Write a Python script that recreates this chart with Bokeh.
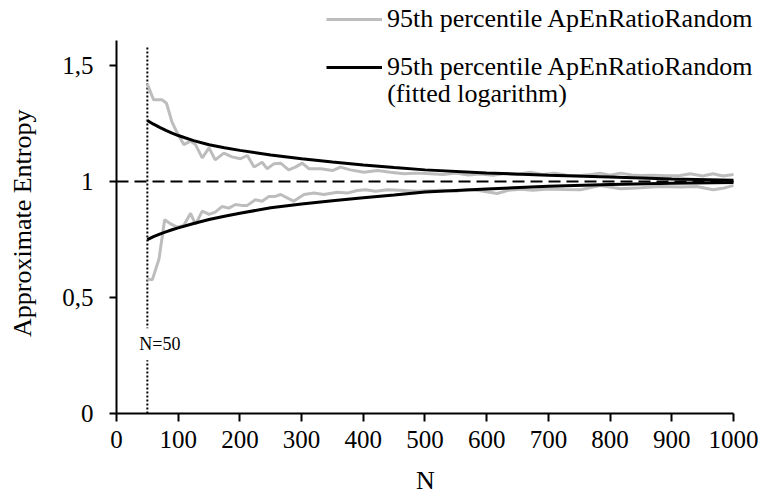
from bokeh.plotting import figure
from bokeh.models import Label, Legend, LegendItem, FixedTicker, Range1d
from bokeh.embed import file_html
from bokeh.resources import INLINE

# ---- data ----
n_upper = [50, 60, 74, 81, 90, 98, 109, 120, 128, 139, 150, 160, 174, 187, 201, 212, 223, 236, 244,
           255, 266, 279, 290, 301, 312, 331, 350, 363, 379, 401, 423, 444, 466, 487, 509, 530, 550,
           570, 590, 610, 630, 650, 670, 690, 710, 730, 752, 770, 784, 800, 817, 835, 850, 870, 890,
           914, 930, 950, 967, 983, 1000]
apen_upper = [1.420, 1.352, 1.352, 1.337, 1.256, 1.212, 1.159, 1.174, 1.159, 1.102, 1.145, 1.093,
              1.122, 1.106, 1.098, 1.112, 1.062, 1.083, 1.055, 1.076, 1.079, 1.050, 1.062, 1.079,
              1.055, 1.055, 1.047, 1.062, 1.050, 1.040, 1.047, 1.040, 1.033, 1.036, 1.033, 1.030,
              1.036, 1.028, 1.032, 1.027, 1.034, 1.030, 1.040, 1.030, 1.035, 1.027, 1.026, 1.030,
              1.036, 1.027, 1.036, 1.028, 1.026, 1.027, 1.025, 1.026, 1.033, 1.024, 1.033, 1.024,
              1.030]

n_lower = [50, 58, 69, 78, 88, 98, 109, 120, 128, 139, 150, 160, 171, 182, 193, 203, 212, 225, 236,
           247, 256, 266, 287, 304, 320, 336, 358, 374, 390, 404, 420, 439, 466, 487, 509, 530, 550,
           570, 590, 617, 635, 655, 675, 700, 725, 752, 784, 817, 850, 880, 914, 940, 967, 985, 1000]
apen_lower = [0.580, 0.576, 0.667, 0.835, 0.817, 0.803, 0.810, 0.863, 0.815, 0.872, 0.858, 0.868,
              0.892, 0.885, 0.901, 0.897, 0.897, 0.921, 0.915, 0.935, 0.935, 0.944, 0.915, 0.944,
              0.950, 0.944, 0.954, 0.950, 0.961, 0.964, 0.958, 0.964, 0.961, 0.958, 0.961, 0.962,
              0.958, 0.965, 0.960, 0.948, 0.962, 0.966, 0.962, 0.968, 0.965, 0.964, 0.983, 0.969,
              0.973, 0.978, 0.976, 0.978, 0.964, 0.972, 0.983]

n_fit = [50, 60, 70, 80, 90, 100, 125, 150, 175, 200, 250, 300, 350, 400, 450, 500, 600, 700,
         800, 900, 1000]
fit_upper = [1.263, 1.247, 1.233, 1.220, 1.208, 1.198, 1.176, 1.158, 1.145, 1.134, 1.114, 1.098,
             1.084, 1.071, 1.060, 1.050, 1.037, 1.027, 1.019, 1.011, 1.005]
fit_lower = [0.749, 0.762, 0.773, 0.783, 0.792, 0.800, 0.819, 0.836, 0.850, 0.863, 0.887, 0.903,
             0.917, 0.930, 0.942, 0.955, 0.968, 0.979, 0.987, 0.992, 0.996]

x_ticks = [0, 100, 200, 300, 400, 500, 600, 700, 800, 900, 1000]
x_axis_max = 1000
y_ticks = [0, 0.5, 1, 1.5]
y_tick_labels = ["0", "0,5", "1", "1,5"]
y_axis_max = 1.608
reference_n = 50
reference_top = 1.586
reference_label = "N=50"
reference_label_y = 0.298
baseline_value = 1.0
x_title = "N"
y_title = "Approximate Entropy"
legend_labels = ["95th percentile ApEnRatioRandom", "95th percentile ApEnRatioRandom", "(fitted logarithm)"]

FONT = "Liberation Serif"
GREY = "#bdbdbd"
NBSP = "\u00a0"  # non-breaking spaces shift the centred axis titles to the reference position

p = figure(width=760, height=497, output_backend="svg", toolbar_location=None,
           x_range=Range1d(0, 1043.8), y_range=Range1d(0, 1.780),
           min_border_left=116, min_border_right=0, min_border_top=0, min_border_bottom=84)
p.outline_line_color = None
p.grid.visible = False
p.background_fill_color = "white"
p.border_fill_color = "white"

# reference lines
p.segment(x0=[0], y0=[baseline_value], x1=[x_axis_max], y1=[baseline_value],
          line_color="black", line_width=2, line_dash="12 6")
p.segment(x0=[reference_n], y0=[0], x1=[reference_n], y1=[reference_top],
          line_color="black", line_width=2, line_dash="2 2")

r_gu = p.line(n_upper, apen_upper, line_color=GREY, line_width=3)
r_gl = p.line(n_lower, apen_lower, line_color=GREY, line_width=3)
r_fu = p.line(n_fit, fit_upper, line_color="black", line_width=3)
r_fl = p.line(n_fit, fit_lower, line_color="black", line_width=3)

p.add_layout(Label(x=reference_n, y=reference_label_y, x_offset=-14, text=reference_label,
                   text_font=FONT, text_font_size="18px", text_align="left",
                   text_baseline="middle", text_color="black",
                   background_fill_color="white", padding=6))

# axes
for ax in (p.xaxis[0], p.yaxis[0]):
    ax.axis_line_width = 2
    ax.axis_line_color = "black"
    ax.major_tick_line_width = 2
    ax.major_tick_line_color = "black"
    ax.major_tick_in = 0
    ax.minor_tick_line_color = None
    ax.major_label_text_font = FONT
    ax.major_label_text_font_size = "25px"
    ax.major_label_text_color = "black"
    ax.axis_label_text_font = FONT
    ax.axis_label_text_font_size = "26px"
    ax.axis_label_text_font_style = "normal"
    ax.axis_label_text_color = "black"

p.xaxis.ticker = FixedTicker(ticks=x_ticks)
p.xaxis.bounds = (0, x_axis_max)
p.xaxis.major_tick_out = 8
p.xaxis.major_label_standoff = 9
p.xaxis.axis_label = x_title + NBSP * 4
p.xaxis.axis_label_standoff = 15

p.yaxis.ticker = FixedTicker(ticks=y_ticks)
p.yaxis.bounds = (0, y_axis_max)
p.yaxis.major_label_overrides = {t: l for t, l in zip(y_ticks, y_tick_labels)}
p.yaxis.major_tick_out = 7
p.yaxis.major_label_standoff = 16
p.yaxis.axis_label = y_title + NBSP * 5
p.yaxis.axis_label_standoff = 22

legend = Legend(items=[LegendItem(label=legend_labels[0], renderers=[r_gu]),
                       LegendItem(label=legend_labels[1], renderers=[r_fu])],
                location=(210, 331), orientation="vertical",
                label_text_font=FONT, label_text_font_size="26px", label_text_color="black",
                glyph_width=56, glyph_height=28, label_height=28, label_standoff=5,
                spacing=18, padding=0, margin=0,
                border_line_color=None, background_fill_alpha=0)
p.add_layout(legend)
p.add_layout(Label(x=270.7, y=320, x_units="screen", y_units="screen",
                   text=legend_labels[2], text_font=FONT, text_font_size="26px",
                   text_baseline="middle", text_align="left", text_color="black"))

open("out.html", "w").write(file_html(p, INLINE))
